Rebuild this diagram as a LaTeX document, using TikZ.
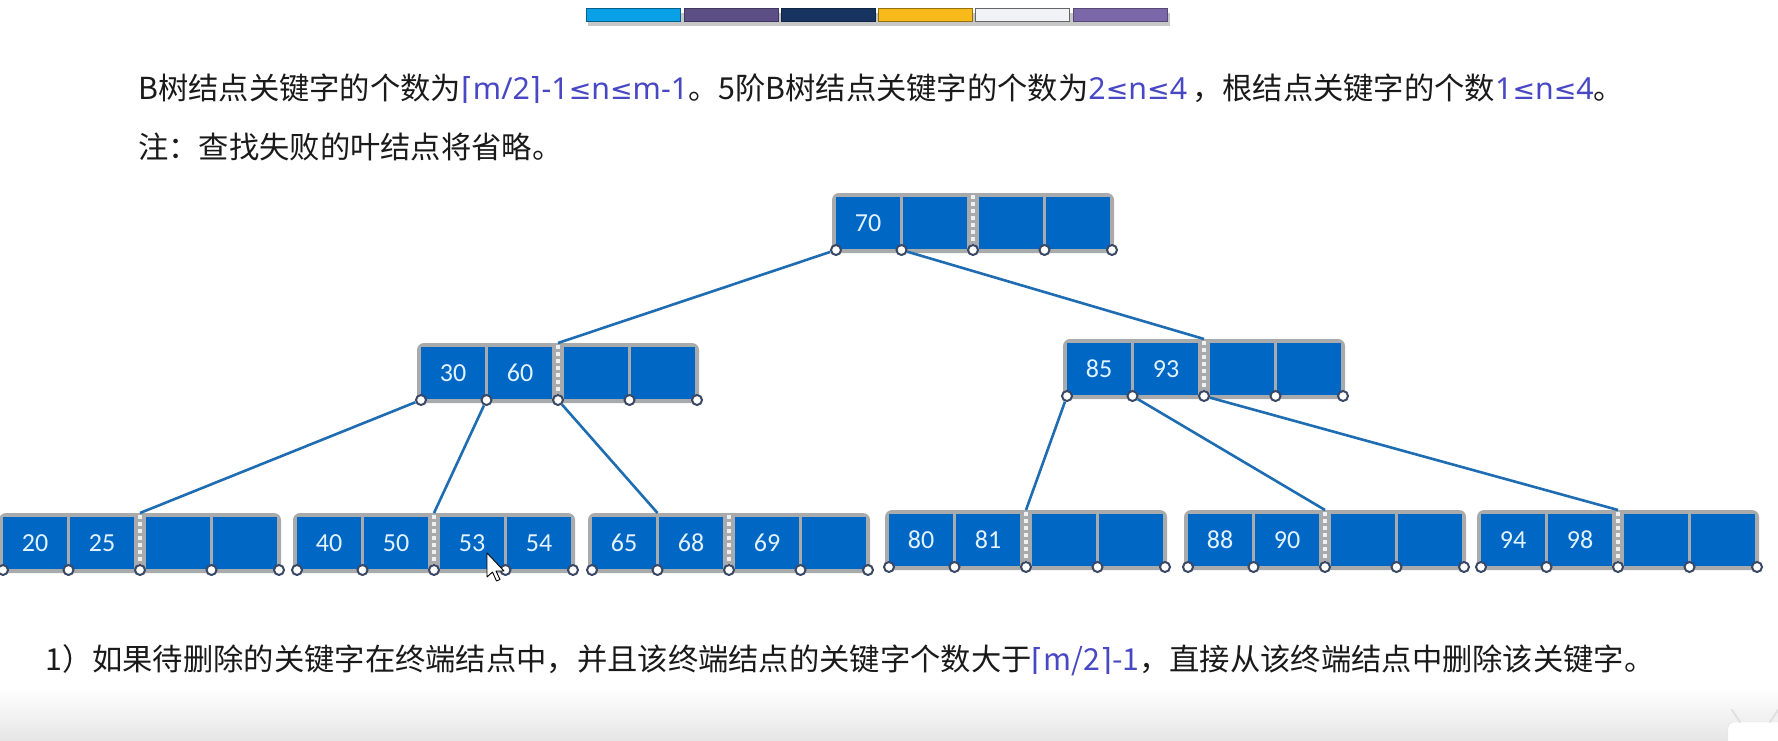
\documentclass[tikz,border=0pt]{standalone}
\usepackage{fontspec}
\setmainfont{Noto Sans CJK SC}
\newfontfamily\djv{DejaVu Sans}
\newfontfamily\nts{Noto Sans}
\newfontfamily\carl{Carlito}
\definecolor{cellblue}{RGB}{0,104,196}
\definecolor{framegray}{RGB}{168,170,172}
\definecolor{linkblue}{RGB}{30,108,178}
\definecolor{ptrline}{RGB}{58,72,102}
\definecolor{celltext}{RGB}{226,242,255}
\definecolor{textblue}{RGB}{72,72,196}
\definecolor{textblack}{RGB}{26,26,26}
\definecolor{barA}{RGB}{10,160,232}
\definecolor{barB}{RGB}{91,79,134}
\definecolor{barC}{RGB}{23,51,95}
\definecolor{barD}{RGB}{247,186,26}
\definecolor{barE}{RGB}{240,242,245}
\definecolor{barF}{RGB}{123,104,168}
\newcommand{\bl}[1]{\textcolor{textblue}{#1}}
\newcommand{\ceilL}{{\djv ⌈}}
\newcommand{\ceilR}{{\djv ⌉}}
\newcommand{\lesym}{{\djv\fontsize{27}{27}\selectfont ≤}}
\tikzset{
  cellbox/.style={fill=cellblue, minimum width=64pt, minimum height=52pt, inner sep=0pt, outer sep=0pt,
    text=celltext, font=\carl\fontsize{26}{26}\selectfont},
  framebox/.style={fill=framegray, rounded corners=7pt, minimum width=282pt, minimum height=60pt, inner sep=0pt, outer sep=0pt},
  ptr/.style={circle, draw=ptrline, fill=white, line width=2pt, minimum size=10pt, inner sep=0pt},
  sepdots/.style={draw=white!88!gray, line width=4.5pt, dash pattern=on 4pt off 3pt},
  link/.style={draw=linkblue, line width=2.6pt},
  txt/.style={inner sep=0pt, text=textblack, font=\fontsize{30.3}{30.3}\selectfont},
  barseg/.style={line width=1pt}
}
\newcommand{\btnode}[7]{%
  \node[framebox, anchor=north west] (#1) at (#2,#3) {};
  \node[cellbox, anchor=north west] (#1-1) at ({#2+4},{#3+4}) {#4};
  \node[cellbox, anchor=north west] (#1-2) at ({#2+71},{#3+4}) {#5};
  \node[cellbox, anchor=north west] (#1-3) at ({#2+147},{#3+4}) {#6};
  \node[cellbox, anchor=north west] (#1-4) at ({#2+214},{#3+4}) {#7};
  \draw[sepdots] ({#2+141},{#3+2}) -- ({#2+141},{#3+56});
  \coordinate (#1-top) at ({#2+141},#3);
  \coordinate (#1-g1) at ({#2+69.5},#3);
  \node[ptr] (#1-p0) at ({#2+4},{#3+57}) {};
  \node[ptr] (#1-p1) at ({#2+69.5},{#3+57}) {};
  \node[ptr] (#1-p2) at ({#2+141},{#3+57}) {};
  \node[ptr] (#1-p3) at ({#2+212.5},{#3+57}) {};
  \node[ptr] (#1-p4) at ({#2+280},{#3+57}) {};
}
\begin{document}
\begin{tikzpicture}[x=1pt,y=-1pt]
\useasboundingbox (0,0) rectangle (1778,741);
\fill[white] (0,0) rectangle (1778,741);
% bottom band
\shade[top color=white, bottom color=black!10] (0,688) rectangle (1778,741);
\fill[white, draw=black!12, rounded corners=6pt] (1728,722) rectangle (1790,750);
\draw[black!12, line width=2pt, line cap=round] (1740,722) -- (1732,710);
\draw[black!12, line width=2pt, line cap=round] (1770,722) -- (1778,710);
% top colour bar
\fill[black!22] (588,13) rectangle (1170,26);
\fill[barA, draw=barA!60!black, barseg] (586,9) rectangle (680,22);
\fill[barB, draw=barB!70!black, barseg] (684,9) rectangle (778,22);
\fill[barC, draw=barC!70!black, barseg] (781,9) rectangle (875,22);
\fill[barD, draw=barD!60!black, barseg] (878,9) rectangle (972,22);
\fill[barE, draw=black!60, barseg] (975,9) rectangle (1069,22);
\fill[barF, draw=barF!70!black, barseg] (1073,9) rectangle (1167,22);
% texts
\node[txt, anchor=base west] (line1) at (138,100) {B树结点关键字的个数为\bl{\ceilL{\nts m/2}\ceilR{\nts -1}\lesym{\nts n}\lesym{\nts m-1}}。5阶B树结点关键字的个数为\bl{\nts 2\lesym n\lesym 4}\,，根结点关键字的个数\bl{\nts 1\lesym n\lesym 4}。};
\node[txt, anchor=base west] (line2) at (138,158) {注：查找失败的叶结点将省略。};
\node[txt, anchor=base west] (line3) at (45,670) {1）如果待删除的关键字在终端结点中，并且该终端结点的关键字个数大于\bl{\ceilL m/2\ceilR -1}，直接从该终端结点中删除该关键字。};
% B-tree nodes
\btnode{root}{832}{193}{70}{}{}{}
\btnode{ml}{417}{343}{30}{60}{}{}
\btnode{mr}{1063}{339}{85}{93}{}{}
\btnode{lfa}{-1}{513}{20}{25}{}{}
\btnode{lfb}{293}{513}{40}{50}{53}{54}
\btnode{lfc}{588}{513}{65}{68}{69}{}
\btnode{lfd}{885}{510}{80}{81}{}{}
\btnode{lfe}{1184}{510}{88}{90}{}{}
\btnode{lff}{1477}{510}{94}{98}{}{}
% connectors
\draw[link] (root-p0) -- (ml-top);
\draw[link] (root-p1) -- (mr-top);
\draw[link] (ml-p0) -- (lfa-top);
\draw[link] (ml-p1) -- (lfb-top);
\draw[link] (ml-p2) -- (lfc-g1);
\draw[link] (mr-p0) -- (lfd-top);
\draw[link] (mr-p1) -- (lfe-top);
\draw[link] (mr-p2) -- (lff-top);
% mouse cursor
\coordinate (cur) at (487,553);
\fill[black!30, shift={(1.5,1.5)}] (cur) -- ++(0,24) -- ++(5.5,-5) -- ++(4,9) -- ++(3.5,-1.5) -- ++(-4,-8.5) -- ++(8,0) -- cycle;
\filldraw[fill=white, draw=black, line width=0.9pt, line join=round] (cur) -- ++(0,24) -- ++(5.5,-5) -- ++(4,9) -- ++(3.5,-1.5) -- ++(-4,-8.5) -- ++(8,0) -- cycle;
\end{tikzpicture}
\end{document}
